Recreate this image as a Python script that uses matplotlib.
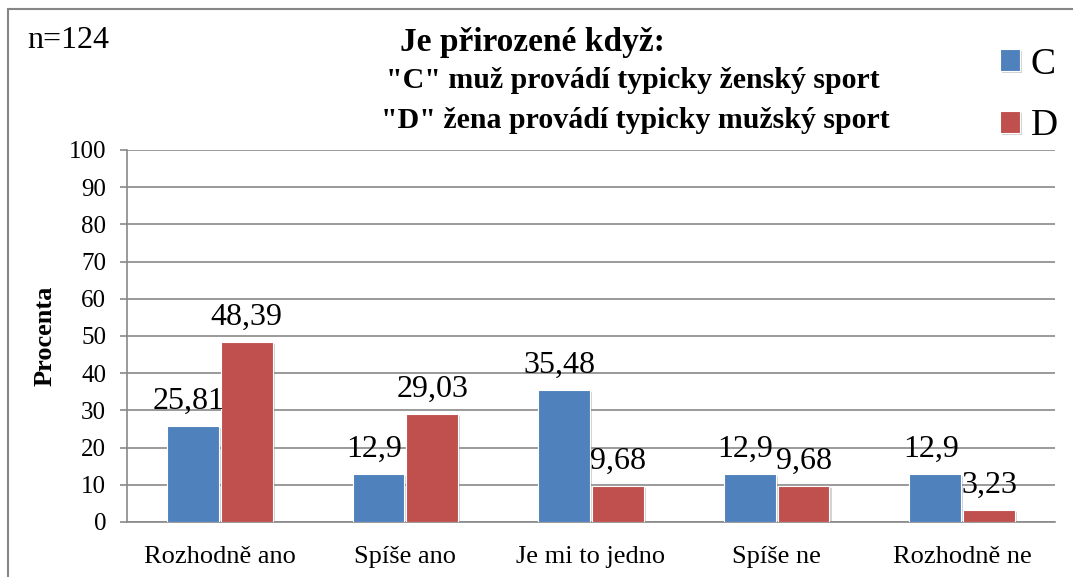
import numpy as np
import matplotlib
matplotlib.use("Agg")
import matplotlib.pyplot as plt
import matplotlib.patches as mpatches
import matplotlib.patheffects as pe

categories = ["Rozhodně ano", "Spíše ano", "Je mi to jedno", "Spíše ne", "Rozhodně ne"]
values_c = [25.81, 12.9, 35.48, 12.9, 12.9]
values_d = [48.39, 29.03, 9.68, 9.68, 3.23]
labels_c = ["25,81", "12,9", "35,48", "12,9", "12,9"]
labels_d = ["48,39", "29,03", "9,68", "9,68", "3,23"]
series_names = ["C", "D"]
title_lines = ["Je přirozené když:",
               "\"C\" muž provádí typicky ženský sport",
               "\"D\" žena provádí typicky mužský sport"]

plt.rcParams['font.family'] = ['Liberation Serif', 'DejaVu Serif']

W, H = 1073, 577
fig = plt.figure(figsize=(W / 100, H / 100), dpi=100)

def fx(px):
    return px / W

def fy(py):
    return 1 - py / H

# outer chart border (only left and top visible in the crop)
fig.patches.append(mpatches.Rectangle((fx(8), -0.1), 1.2, fy(9) + 0.1,
                                      transform=fig.transFigure, fill=False,
                                      edgecolor='#868686', linewidth=1.5))

ax = fig.add_axes([fx(127), fy(522), fx(1055 - 127), (522 - 150) / H])

grid_col = '#898989'
blue = '#4F81BD'
red = '#C0504D'
x = np.arange(len(categories))
w = 0.28
shadow = [pe.SimplePatchShadow(offset=(1.5, -1.5), shadow_rgbFace='#808080', alpha=0.35),
          pe.Normal()]
bars_c = ax.bar(x - w / 2 - 0.005, values_c, w, color=blue, edgecolor='white',
                linewidth=0.8, zorder=3, label=series_names[0])
bars_d = ax.bar(x + w / 2 + 0.005, values_d, w, color=red, edgecolor='white',
                linewidth=0.8, zorder=3, label=series_names[1])
for b in list(bars_c) + list(bars_d):
    b.set_path_effects(shadow)

for b, t in zip(bars_c, labels_c):
    ax.annotate(t, (b.get_x() + b.get_width() / 2, b.get_height()),
                xytext=(-3, 7), textcoords='offset points', ha='center', va='bottom',
                fontsize=23, zorder=5)
for b, t in zip(bars_d, labels_d):
    ax.annotate(t, (b.get_x() + b.get_width() / 2, b.get_height()),
                xytext=(0, 7), textcoords='offset points', ha='center', va='bottom',
                fontsize=23, zorder=5)

ax.set_ylim(0, 100)
ax.set_xlim(-0.5, len(categories) - 0.5)
ax.set_yticks(np.arange(0, 101, 10))
ax.yaxis.grid(True, color=grid_col, linewidth=1.2, zorder=0)
ax.set_axisbelow(True)
ax.set_xticks(x)
ax.set_xticklabels(categories, fontsize=19)
ax.tick_params(axis='x', length=0, pad=17)
ax.tick_params(axis='y', labelsize=18, length=5, color=grid_col, width=1.2, pad=10)
for s in ['top', 'right']:
    ax.spines[s].set_visible(False)
for s in ['left', 'bottom']:
    ax.spines[s].set_color(grid_col)
    ax.spines[s].set_linewidth(1.2)
ax.set_ylabel("Procenta", fontsize=19, fontweight='bold', labelpad=9)

fig.text(fx(400), fy(43), title_lines[0], fontsize=24, fontweight='bold',
         ha='left', va='center')
fig.text(fx(633), fy(81), title_lines[1], fontsize=21.5, fontweight='bold',
         ha='center', va='center')
fig.text(fx(635), fy(121), title_lines[2], fontsize=21.5, fontweight='bold',
         ha='center', va='center')
fig.text(fx(27), fy(40), "n=124", fontsize=23, ha='left', va='center')

leg = fig.legend(handles=[bars_c, bars_d], labels=series_names, loc='upper left',
                 bbox_to_anchor=(fx(985), fy(32)), frameon=False, fontsize=27,
                 handlelength=0.52, handleheight=0.52, handletextpad=0.3,
                 labelspacing=0.72, borderaxespad=0)

fig.savefig("out.png", dpi=100)
